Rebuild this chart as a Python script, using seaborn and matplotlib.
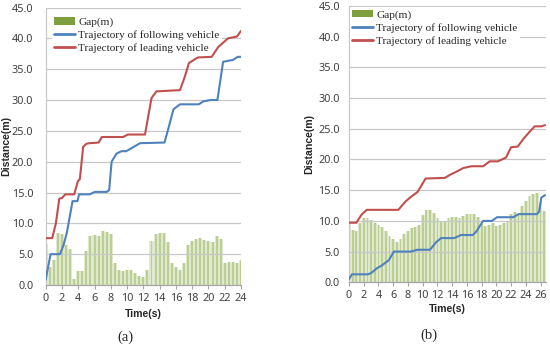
import numpy as np
import matplotlib
matplotlib.use('Agg')
import matplotlib.pyplot as plt
import seaborn as sns
from matplotlib.patches import Patch
from matplotlib.lines import Line2D

sns.set_style('white')
plt.rcParams['font.family'] = ['Noto Sans', 'DejaVu Sans']

# ---- panel (a) ----
gap_a_time = np.arange(0, 24.01, 0.5)
gap_a = [6.6, 3.0, 4.0, 8.5, 8.3, 6.5, 5.8, 1.0, 2.3, 2.2,
         5.5, 8.0, 8.1, 7.9, 8.8, 8.6, 8.2, 3.5, 2.5, 2.3,
         2.5, 2.4, 2.0, 1.5, 1.3, 2.5, 7.2, 8.2, 8.4, 8.4,
         7.0, 3.5, 3.0, 2.5, 3.5, 6.5, 7.2, 7.5, 7.6, 7.3,
         7.1, 7.0, 8.0, 7.5, 3.5, 3.7, 3.8, 3.5, 4.0]
follow_a_time = [0, 0.6, 1.75, 2.2, 2.6, 3.3, 3.9, 4.1, 5.4, 6.05, 7.5, 7.8, 8.1, 8.7, 9.3,
                 9.9, 11.6, 14.6, 15.2, 15.7, 16.5, 18.8, 19.4, 20.3, 21.1, 21.8, 22.6, 23.0, 23.6, 24.0]
follow_a = [0.9, 5.0, 5.0, 6.5, 8.5, 13.6, 13.6, 14.7, 14.7, 15.1, 15.1, 15.4, 20.0, 21.3, 21.7,
            21.7, 23.0, 23.1, 26.0, 28.5, 29.3, 29.3, 29.8, 30.0, 30.0, 36.2, 36.4, 36.5, 37.0, 37.0]
lead_a_time = [0, 0.8, 1.25, 1.67, 2.0, 2.4, 3.5, 3.95, 4.2, 4.6, 5.0, 5.4, 6.5, 6.9, 9.5,
               10.1, 12.2, 13.0, 13.6, 16.5, 17.1, 17.6, 18.7, 20.4, 21.2, 22.4, 23.5, 24.0]
lead_a = [7.6, 7.6, 10.0, 14.0, 14.1, 14.7, 14.7, 16.8, 17.2, 22.4, 22.9, 23.0, 23.1, 24.0, 24.0,
          24.4, 24.4, 30.3, 31.4, 31.6, 33.8, 36.0, 36.9, 37.0, 38.6, 40.0, 40.3, 41.2]

# ---- panel (b) ----
gap_b_time = np.arange(0, 26.51, 0.5)
gap_b = [9.8, 8.5, 8.4, 9.6, 10.4, 10.4, 10.2, 9.6, 9.3, 9.0,
         8.4, 7.6, 7.0, 6.6, 7.1, 7.9, 8.4, 8.8, 9.0, 9.4,
         11.0, 11.7, 11.8, 11.3, 10.5, 9.9, 10.0, 10.4, 10.7, 10.6,
         10.4, 10.8, 11.1, 11.2, 11.2, 10.6, 9.5, 9.2, 9.4, 9.6,
         9.2, 9.3, 9.6, 9.9, 11.1, 11.4, 11.1, 12.5, 13.3, 14.0,
         14.4, 14.5, 13.0, 11.6]
follow_b_time = [0, 0.4, 2.6, 3.0, 3.8, 4.4, 5.4, 6.1, 8.4, 9.3, 11.0, 11.8, 12.5, 14.3, 15.2,
                 16.8, 17.3, 18.2, 19.4, 20.1, 22.3, 23.0, 25.5, 25.8, 26.1, 26.6]
follow_b = [0.5, 1.3, 1.3, 1.5, 2.3, 2.7, 3.6, 5.0, 5.0, 5.3, 5.3, 6.5, 7.2, 7.2, 7.7,
            7.7, 8.3, 10.0, 10.0, 10.6, 10.6, 11.1, 11.1, 11.5, 13.8, 14.2]
lead_b_time = [0, 1.0, 1.7, 2.4, 6.7, 7.7, 8.5, 9.3, 10.4, 13.0, 13.7, 14.4, 15.5, 16.6, 18.2,
               19.1, 20.2, 21.3, 22.0, 22.9, 23.7, 24.5, 25.2, 26.1, 26.6]
lead_b = [9.7, 9.7, 11.0, 11.8, 11.8, 13.2, 14.0, 14.7, 16.9, 17.0, 17.5, 17.9, 18.6, 18.9, 18.9,
          19.7, 19.7, 20.3, 22.0, 22.1, 23.4, 24.5, 25.4, 25.4, 25.6]

legend_labels = ['Gap(m)', 'Trajectory of following vehicle', 'Trajectory of leading vehicle']

BLUE = '#4F81BD'
RED = '#C0504D'
BAR_LIGHT = '#E0E9CF'
BAR_DARK = '#BBCF93'
SWATCH = '#7F9F3F'


def draw_panel(ax, gap_t, gap, f_t, f_d, l_t, l_d, xmax, xticks, letter,
               ypad, ylab_x, xlab_y, leg_anchor):
    # gap bars: light full-width plus darker narrow stripe
    ax.bar(gap_t, gap, width=0.5, color=BAR_LIGHT, linewidth=0, zorder=1)
    ax.bar(gap_t, gap, width=0.24, color=BAR_DARK, linewidth=0, zorder=1.1)

    sns.lineplot(x=f_t, y=f_d, ax=ax, color=BLUE, lw=1.5, sort=False, zorder=3)
    sns.lineplot(x=l_t, y=l_d, ax=ax, color=RED, lw=1.5, sort=False, zorder=3)

    ax.set_xlim(0, xmax)
    ax.set_ylim(0, 45)
    ax.set_xticks(xticks)
    ax.set_yticks(np.arange(0, 45.1, 5))
    ax.set_yticklabels([f'{v:.1f}' for v in np.arange(0, 45.1, 5)])

    ax.yaxis.grid(True, color='#C8C8C8', lw=0.9, zorder=2)
    ax.xaxis.grid(False)
    ax.set_axisbelow(False)
    for s in ['top', 'right']:
        ax.spines[s].set_visible(False)
    ax.spines['left'].set_color('#C8C8C8')
    ax.spines['bottom'].set_color('#A6A6A6')
    ax.spines['left'].set_linewidth(0.9)
    ax.spines['bottom'].set_linewidth(0.9)

    ax.tick_params(axis='x', length=3, width=0.8, color='#A6A6A6', direction='out',
                   labelsize=7.8, pad=2.5, labelcolor='#404040', bottom=True)
    ax.tick_params(axis='y', length=0, labelsize=7.8, pad=ypad, labelcolor='#404040')

    ax.set_xlabel('Time(s)', fontsize=7.6, fontweight='bold', family='Liberation Sans')
    ax.set_ylabel('Distance(m)', fontsize=7.6, fontweight='bold', family='Liberation Sans')
    ax.yaxis.set_label_coords(ylab_x, 0.5)
    ax.xaxis.set_label_coords(0.5, xlab_y)

    handles = [Patch(facecolor=SWATCH, edgecolor='none'),
               Line2D([], [], color=BLUE, lw=2),
               Line2D([], [], color=RED, lw=2)]
    leg = ax.legend(handles, legend_labels, loc='upper left', bbox_to_anchor=leg_anchor,
                    borderaxespad=0, borderpad=0.2, frameon=True, framealpha=1,
                    edgecolor='none', facecolor='white',
                    prop={'family': 'Liberation Serif', 'size': 8.1},
                    handlelength=1.85, handleheight=0.7, handletextpad=0.3,
                    labelspacing=0.3)
    # keep legend above the gridlines but below the trajectories
    leg.set_zorder(2.8)

    ax.text(0.41 if letter == '(a)' else 0.405, -0.19, letter, transform=ax.transAxes,
            ha='center', va='center', fontsize=10.5, family='Liberation Serif')


fig = plt.figure(figsize=(5.5, 3.46), dpi=100)
ax_a = fig.add_axes([0.0831, 0.1763, 0.3551, 0.8020])
ax_b = fig.add_axes([0.6345, 0.1841, 0.3591, 0.7986])

draw_panel(ax_a, gap_a_time, gap_a, follow_a_time, follow_a, lead_a_time, lead_a,
           24, np.arange(0, 25, 2), '(a)', 9, -0.175, -0.088, (0.03, 0.975))
draw_panel(ax_b, gap_b_time, gap_b, follow_b_time, follow_b, lead_b_time, lead_b,
           26.8, np.arange(0, 27, 2), '(b)', 6.5, -0.175, -0.078, (0.005, 0.995))

fig.savefig('out.png', dpi=100, facecolor='white')
